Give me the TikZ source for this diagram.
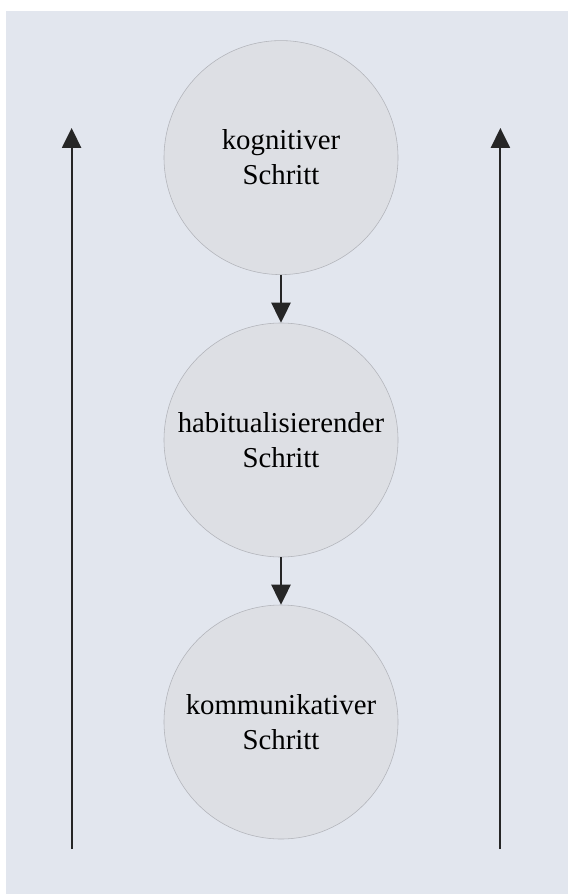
\documentclass[tikz,border=0pt]{standalone}
\usepackage{fontspec}
\setmainfont{Liberation Serif}
\usepackage{tikz}
\usetikzlibrary{arrows.meta}
\definecolor{bgblue}{RGB}{226,230,238}
\definecolor{discgray}{RGB}{221,223,228}
\begin{document}
\begin{tikzpicture}
	[stp/.style={circle,draw={rgb, 255:red, 178; green, 180; blue, 186},fill=discgray,
		minimum size=5.85cm,inner sep=0pt,align=center,font=\fontsize{20.5}{24.9}\selectfont},
	pf/.style={-{Triangle[length=0.5cm,width=0.48cm]},line width=1.3pt,draw=black!85}]
	\useasboundingbox (0,0) rectangle (14.2,-22.35);
	\fill[bgblue] (0.15,-0.275) rectangle (14.2,-22.35);
	%STEPS
	\foreach \n/\y/\w in {1/-3.94/kognitiver,2/-11.0/habitualisierender,3/-18.05/kommunikativer}
	\node[stp] (s\n) at (7.025,\y) {\w\\Schritt};
	\foreach \x in {1,2}
	{
		\pgfmathtruncatemacro{\j}{\x+1}
		\draw[pf](s\x) -- (s\j);
	};
	%SIDES
	\coordinate (l0) at (1.79,-21.225);
	\coordinate (l1) at (1.79,-3.2);
	\coordinate (r0) at (12.51,-21.225);
	\coordinate (r1) at (12.51,-3.2);
	\draw[pf](l0) -- (l1);
	\draw[pf](r0) -- (r1);
\end{tikzpicture}
\end{document}
